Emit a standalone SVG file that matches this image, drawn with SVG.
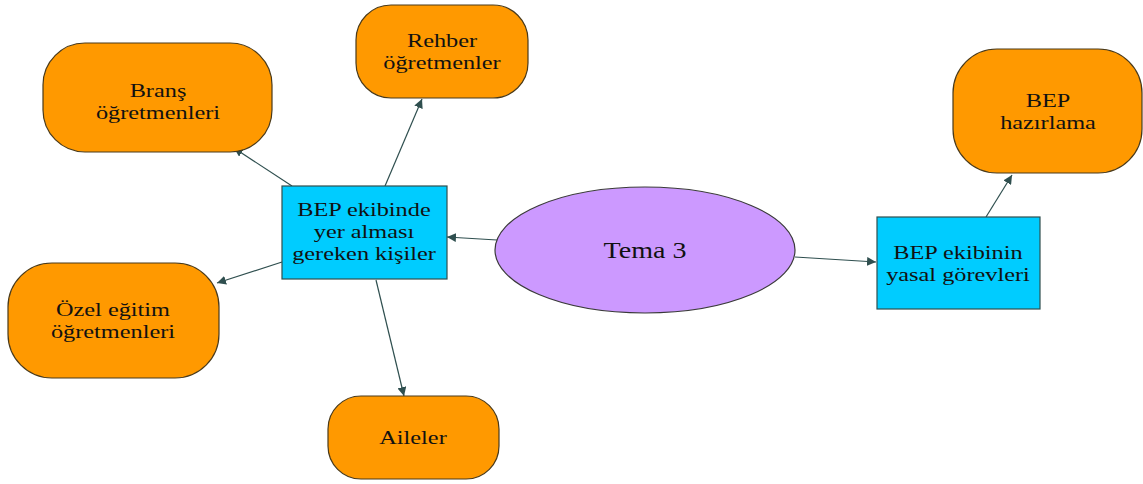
<svg xmlns="http://www.w3.org/2000/svg" width="1143" height="484" viewBox="0 0 1143 484">
<defs>
<marker id="arr" viewBox="0 0 10 10" refX="10" refY="5" markerWidth="9" markerHeight="9" markerUnits="userSpaceOnUse" orient="auto">
<path d="M0,0 L10,5 L0,10 z" fill="#2f4f4f"/>
</marker>
<style>
.o{fill:#ff9900;stroke:#4a3a1a;stroke-width:1.2}
.b{fill:#00ccff;stroke:#2f4f4f;stroke-width:1.2}
.e{fill:#cc99ff;stroke:#3a3a3a;stroke-width:1.2}
.t{font-family:"Liberation Serif","Times New Roman",serif;font-size:18px;fill:#111;text-anchor:middle}
.c{stroke:#2f4f4f;stroke-width:1.2;fill:none;marker-end:url(#arr)}
</style>
</defs>
<rect width="1143" height="484" fill="#fff"/>
<g id="connectors">
<line class="c" x1="497" y1="240" x2="447" y2="237"/>
<line class="c" x1="795" y1="257" x2="876" y2="262"/>
<line class="c" x1="292" y1="186" x2="234" y2="148"/>
<line class="c" x1="385" y1="186" x2="422" y2="99"/>
<line class="c" x1="282" y1="262" x2="217" y2="283"/>
<line class="c" x1="376" y1="280" x2="404" y2="396"/>
<line class="c" x1="986" y1="217" x2="1012" y2="175"/>
</g>
<g id="tema3">
<ellipse class="e" cx="645" cy="250" rx="150" ry="63"/>
<text class="t" transform="translate(645,258) scale(1.22,1)" style="font-size:23px">Tema 3</text>
</g>
<g id="bep-ekibinde">
<rect class="b" x="282" y="186" width="165" height="93"/>
<text class="t" transform="translate(364,216) scale(1.35,1)">BEP ekibinde</text>
<text class="t" transform="translate(364,238) scale(1.35,1)">yer alması</text>
<text class="t" transform="translate(364,260) scale(1.35,1)">gereken kişiler</text>
</g>
<g id="bep-ekibinin">
<rect class="b" x="877" y="217" width="163" height="92"/>
<text class="t" transform="translate(958,259) scale(1.35,1)">BEP ekibinin</text>
<text class="t" transform="translate(958,281) scale(1.35,1)">yasal görevleri</text>
</g>
<g id="brans">
<rect class="o" x="43" y="43" width="229" height="109" rx="42" ry="42"/>
<text class="t" transform="translate(158,97) scale(1.35,1)">Branş</text>
<text class="t" transform="translate(158,119) scale(1.35,1)">öğretmenleri</text>
</g>
<g id="rehber">
<rect class="o" x="356" y="5" width="172" height="93" rx="35" ry="35"/>
<text class="t" transform="translate(442,47) scale(1.35,1)">Rehber</text>
<text class="t" transform="translate(442,69) scale(1.35,1)">öğretmenler</text>
</g>
<g id="ozel">
<rect class="o" x="8" y="263" width="211" height="115" rx="44" ry="44"/>
<text class="t" transform="translate(113,316) scale(1.35,1)">Özel eğitim</text>
<text class="t" transform="translate(113,338) scale(1.35,1)">öğretmenleri</text>
</g>
<g id="aileler">
<rect class="o" x="328" y="396" width="171" height="83" rx="33" ry="33"/>
<text class="t" transform="translate(413,444) scale(1.35,1)">Aileler</text>
</g>
<g id="hazirlama">
<rect class="o" x="953" y="49" width="189" height="124" rx="44" ry="44"/>
<text class="t" transform="translate(1048,107) scale(1.35,1)">BEP</text>
<text class="t" transform="translate(1048,129) scale(1.35,1)">hazırlama</text>
</g>
</svg>
